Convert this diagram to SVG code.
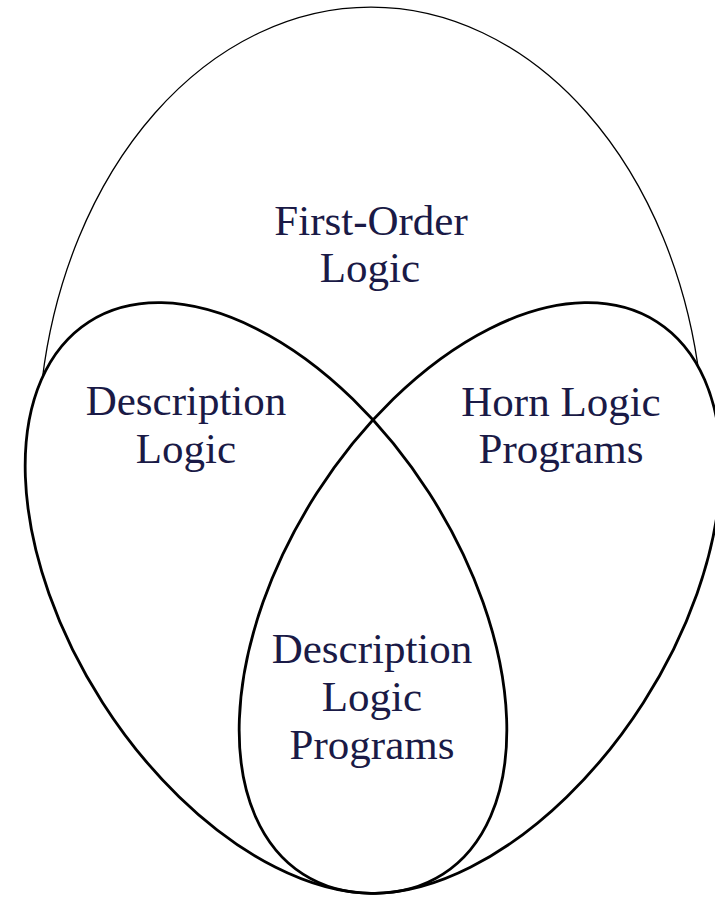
<svg xmlns="http://www.w3.org/2000/svg" width="715" height="897" viewBox="0 0 715 897">
  <style>
    .bg { fill: #ffffff; }
    .outer { fill: none; stroke: #000000; stroke-width: 1.3; }
    .cover { fill: #ffffff; stroke: none; }
    .set { fill: none; stroke: #000000; stroke-width: 2.8; }
    .label { font-family: "Liberation Serif", "Times New Roman", serif; font-size: 43px; fill: #1a1a46; text-anchor: middle; }
  </style>
  <defs>
    <!-- tilted set shapes, reused for the white cover and the outline -->
    <ellipse id="dl-shape" cx="0" cy="0" rx="328" ry="194" transform="translate(266 598) rotate(57.35)"/>
    <ellipse id="hlp-shape" cx="0" cy="0" rx="328" ry="194" transform="translate(480 598) rotate(-57.35)"/>
  </defs>

  <rect class="bg" x="0" y="0" width="715" height="897"/>

  <!-- outer set: only its upper arc shows above the two inner sets -->
  <g id="fol">
    <path class="outer" d="M 42.2 380 A 333 443 0 0 1 699.8 380"/>
    <text class="label" x="371" y="235">First-Order</text>
    <text class="label" x="370" y="282">Logic</text>
  </g>

  <!-- white interiors hide the ends of the outer arc inside the two sets -->
  <g id="covers">
    <use href="#dl-shape" class="cover"/>
    <use href="#hlp-shape" class="cover"/>
  </g>

  <g id="dl">
    <use href="#dl-shape" class="set"/>
    <text class="label" x="186" y="415">Description</text>
    <text class="label" x="186" y="463">Logic</text>
  </g>

  <g id="hlp">
    <use href="#hlp-shape" class="set"/>
    <text class="label" x="561" y="416">Horn Logic</text>
    <text class="label" x="561" y="463">Programs</text>
  </g>

  <!-- overlap of the two sets -->
  <g id="dlp">
    <text class="label" x="372" y="663">Description</text>
    <text class="label" x="372" y="711">Logic</text>
    <text class="label" x="372" y="759">Programs</text>
  </g>
</svg>
